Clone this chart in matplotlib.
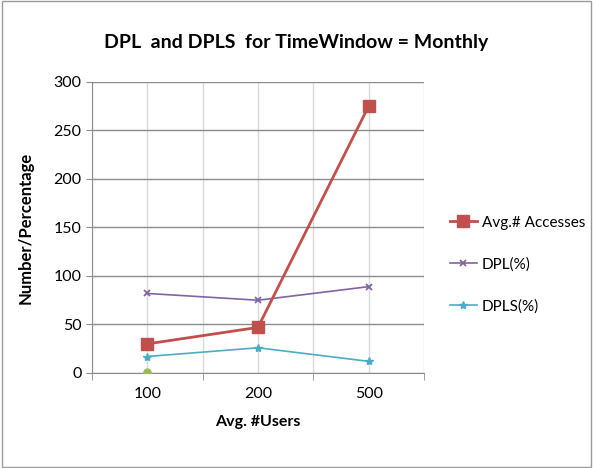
import matplotlib
matplotlib.use("Agg")
import matplotlib.pyplot as plt
from matplotlib.patches import Rectangle

users = ["100", "200", "500"]
avg_accesses = [30, 47, 275]
dpl = [82, 75, 89]
dpls = [17, 26, 12]
extra = [1]  # green point at 100

plt.rcParams['font.family'] = ['Lato', 'DejaVu Sans']

fig = plt.figure(figsize=(5.93, 4.68), dpi=100)
fig.patches.append(Rectangle((0.003, 0.003), 0.994, 0.994, transform=fig.transFigure,
                             fill=False, edgecolor='#9a9a9a', lw=1))
ax = fig.add_axes([0.155, 0.203, 0.56, 0.622])

x = list(range(len(users)))
ax.plot(x, avg_accesses, color='#c0504d', lw=2, marker='s', ms=8,
        markerfacecolor='#c0504d', markeredgecolor='#c0504d', label='Avg.# Accesses', zorder=4)
ax.plot(x, dpl, color='#8064a2', lw=1.2, marker='x', ms=5, mew=1.3, label='DPL(%)', zorder=3)
ax.plot(x, dpls, color='#4bacc6', lw=1.2, marker='*', ms=6, label='DPLS(%)', zorder=3)
ax.plot(x[:1], extra, color='#9bbb59', marker='o', ms=5, lw=0, zorder=3)

ax.set_xlim(-0.5, 2.5)
ax.set_ylim(0, 300)
ax.set_yticks(range(0, 301, 50))
ax.set_xticks(x)
ax.set_xticklabels(users)
ax.set_xticks([-0.5, 0.5, 1.5, 2.5], minor=True)
ax.grid(axis='y', which='major', color='#8c8c8c', lw=1)
ax.grid(axis='x', which='both', color='#d9d9d9', lw=1)
ax.set_axisbelow(True)
ax.tick_params(axis='x', which='major', length=0, pad=10, labelsize=11.5)
ax.tick_params(axis='x', which='minor', length=5, color='#8c8c8c')
ax.tick_params(axis='y', length=4, color='#8c8c8c', labelsize=11.5)
for s in ['top', 'right']:
    ax.spines[s].set_visible(False)
for s in ['left', 'bottom']:
    ax.spines[s].set_color('#8c8c8c')

ax.set_xlabel('Avg. #Users', fontsize=11.5, fontweight='bold', labelpad=10)
ax.set_ylabel('Number/Percentage', fontsize=12, fontweight='bold', labelpad=14)
fig.text(0.5, 0.91, 'DPL  and DPLS  for TimeWindow = Monthly', ha='center', va='center',
         fontsize=14, fontweight='bold')

fig.legend(loc='center left', bbox_to_anchor=(0.735, 0.435), frameon=False, fontsize=11,
           handlelength=1.8, handletextpad=0.3, labelspacing=1.8)

fig.savefig('out.png', dpi=100)
